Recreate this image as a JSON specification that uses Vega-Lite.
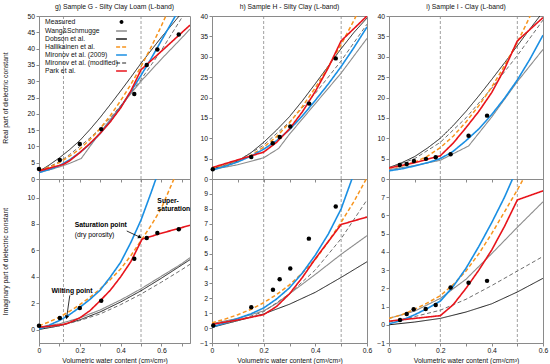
{
"$schema": "https://vega.github.io/schema/vega-lite/v6.json",
"padding": {"left": 2, "top": 3, "right": 0, "bottom": 0},
"bounds": "flush",
"align": "each",
"columns": 3,
"spacing": {"row": 0, "column": 22},
"resolve": {"legend": {"color": "independent"}},
"config": {
  "font": "Liberation Sans",
  "view": {"stroke": "#8a8a8a"},
  "axis": {"labelFontSize": 6.8, "titleFontSize": 6.8, "titleFontWeight": "normal", "labelColor": "#111", "titleColor": "#111", "domainColor": "#8a8a8a", "tickColor": "#8a8a8a", "tickSize": 3, "labelPadding": 1.5, "grid": false, "labelOverlap": false, "labelFlush": false},
  "title": {"fontSize": 6.8, "fontWeight": "normal", "offset": 2, "color": "#111"}
},
"datasets": {
"vlines": [{"panel":"g","x":0.12},{"panel":"g","x":0.5},{"panel":"h","x":0.2},{"panel":"h","x":0.5},{"panel":"i","x":0.2},{"panel":"i","x":0.5}],
"notesBold": [{"text":"Saturation point","x":0.175,"y":7.95},{"text":"Super-","x":0.58,"y":9.72},{"text":"saturation","x":0.58,"y":9.11},{"text":"Wilting point","x":0.061,"y":2.92}],
"notesPlain": [{"text":"(dry porosity)","x":0.175,"y":7.2}],
"arrows": [{"arrow":"sat","x":0.43,"y":7.47,"x2":0.492,"y2":7.02},{"arrow":"wilt","x":0.151,"y":2.6,"x2":0.136,"y2":0.98}],
"gr": [
{"model":"Measured","x":0,"y":3.07},{"model":"Measured","x":0.102,"y":5.84},{"model":"Measured","x":0.2,"y":10.76},{"model":"Measured","x":0.305,"y":15.3},{"model":"Measured","x":0.467,"y":26.1},{"model":"Measured","x":0.528,"y":35},{"model":"Measured","x":0.58,"y":39.75},{"model":"Measured","x":0.685,"y":44.3},
{"model":"Wang&Schmugge","x":0,"y":2.0},{"model":"Wang&Schmugge","x":0.05,"y":2.8},{"model":"Wang&Schmugge","x":0.1,"y":3.7},{"model":"Wang&Schmugge","x":0.15,"y":4.8},{"model":"Wang&Schmugge","x":0.207,"y":6.3},{"model":"Wang&Schmugge","x":0.3,"y":14.3},{"model":"Wang&Schmugge","x":0.4,"y":22.3},{"model":"Wang&Schmugge","x":0.5,"y":30},{"model":"Wang&Schmugge","x":0.6,"y":36.8},{"model":"Wang&Schmugge","x":0.7,"y":43.3},{"model":"Wang&Schmugge","x":0.74,"y":46},
{"model":"Dobson et al.","x":0,"y":2.3},{"model":"Dobson et al.","x":0.05,"y":4.3},{"model":"Dobson et al.","x":0.1,"y":6.5},{"model":"Dobson et al.","x":0.15,"y":9},{"model":"Dobson et al.","x":0.2,"y":11.8},{"model":"Dobson et al.","x":0.25,"y":15.2},{"model":"Dobson et al.","x":0.3,"y":18.9},{"model":"Dobson et al.","x":0.35,"y":22.9},{"model":"Dobson et al.","x":0.4,"y":27},{"model":"Dobson et al.","x":0.45,"y":31.2},{"model":"Dobson et al.","x":0.5,"y":35.5},{"model":"Dobson et al.","x":0.55,"y":39.5},{"model":"Dobson et al.","x":0.6,"y":43.5},{"model":"Dobson et al.","x":0.65,"y":47.2},{"model":"Dobson et al.","x":0.7,"y":51},
{"model":"Mironov et al. (modified)","x":0,"y":2.6},{"model":"Mironov et al. (modified)","x":0.05,"y":3.8},{"model":"Mironov et al. (modified)","x":0.1,"y":5.3},{"model":"Mironov et al. (modified)","x":0.15,"y":7.5},{"model":"Mironov et al. (modified)","x":0.2,"y":10},{"model":"Mironov et al. (modified)","x":0.25,"y":12.6},{"model":"Mironov et al. (modified)","x":0.3,"y":15.5},{"model":"Mironov et al. (modified)","x":0.35,"y":18.8},{"model":"Mironov et al. (modified)","x":0.4,"y":22.5},{"model":"Mironov et al. (modified)","x":0.45,"y":26.5},{"model":"Mironov et al. (modified)","x":0.5,"y":30.5},{"model":"Mironov et al. (modified)","x":0.55,"y":35},{"model":"Mironov et al. (modified)","x":0.6,"y":39.5},{"model":"Mironov et al. (modified)","x":0.65,"y":44.5},{"model":"Mironov et al. (modified)","x":0.7,"y":49.5},{"model":"Mironov et al. (modified)","x":0.74,"y":53},
{"model":"Hallikainen et al.","x":0,"y":2.6},{"model":"Hallikainen et al.","x":0.05,"y":3.6},{"model":"Hallikainen et al.","x":0.1,"y":5.0},{"model":"Hallikainen et al.","x":0.15,"y":7},{"model":"Hallikainen et al.","x":0.2,"y":9.2},{"model":"Hallikainen et al.","x":0.25,"y":12.1},{"model":"Hallikainen et al.","x":0.3,"y":15.5},{"model":"Hallikainen et al.","x":0.35,"y":19.5},{"model":"Hallikainen et al.","x":0.4,"y":24},{"model":"Hallikainen et al.","x":0.45,"y":29},{"model":"Hallikainen et al.","x":0.5,"y":34.5},{"model":"Hallikainen et al.","x":0.55,"y":40.5},{"model":"Hallikainen et al.","x":0.6,"y":47},{"model":"Hallikainen et al.","x":0.65,"y":54},
{"model":"Mironov et al. (2009)","x":0,"y":2.0},{"model":"Mironov et al. (2009)","x":0.05,"y":2.9},{"model":"Mironov et al. (2009)","x":0.1,"y":4.1},{"model":"Mironov et al. (2009)","x":0.15,"y":5.9},{"model":"Mironov et al. (2009)","x":0.2,"y":8.1},{"model":"Mironov et al. (2009)","x":0.25,"y":10.8},{"model":"Mironov et al. (2009)","x":0.3,"y":14},{"model":"Mironov et al. (2009)","x":0.35,"y":17.8},{"model":"Mironov et al. (2009)","x":0.4,"y":22},{"model":"Mironov et al. (2009)","x":0.45,"y":26.8},{"model":"Mironov et al. (2009)","x":0.5,"y":31.8},{"model":"Mironov et al. (2009)","x":0.55,"y":37},{"model":"Mironov et al. (2009)","x":0.6,"y":42.5},{"model":"Mironov et al. (2009)","x":0.65,"y":48},{"model":"Mironov et al. (2009)","x":0.7,"y":53.5},
{"model":"Park et al.","x":0,"y":2.5},{"model":"Park et al.","x":0.05,"y":3.3},{"model":"Park et al.","x":0.12,"y":4.5},{"model":"Park et al.","x":0.15,"y":5.6},{"model":"Park et al.","x":0.2,"y":8.1},{"model":"Park et al.","x":0.25,"y":10.9},{"model":"Park et al.","x":0.3,"y":14},{"model":"Park et al.","x":0.35,"y":17.6},{"model":"Park et al.","x":0.4,"y":21.8},{"model":"Park et al.","x":0.45,"y":27},{"model":"Park et al.","x":0.5,"y":33.5},{"model":"Park et al.","x":0.6,"y":39.2},{"model":"Park et al.","x":0.74,"y":47.2}
],
"gi": [
{"model":"Measured","x":0,"y":0.3},{"model":"Measured","x":0.102,"y":0.89},{"model":"Measured","x":0.2,"y":1.65},{"model":"Measured","x":0.305,"y":2.2},{"model":"Measured","x":0.467,"y":5.37},{"model":"Measured","x":0.528,"y":6.94},{"model":"Measured","x":0.58,"y":7.32},{"model":"Measured","x":0.685,"y":7.6},
{"model":"Wang&Schmugge","x":0,"y":0.2},{"model":"Wang&Schmugge","x":0.1,"y":0.45},{"model":"Wang&Schmugge","x":0.2,"y":0.9},{"model":"Wang&Schmugge","x":0.3,"y":1.5},{"model":"Wang&Schmugge","x":0.4,"y":2.25},{"model":"Wang&Schmugge","x":0.5,"y":3.1},{"model":"Wang&Schmugge","x":0.6,"y":4.05},{"model":"Wang&Schmugge","x":0.7,"y":5.0},{"model":"Wang&Schmugge","x":0.74,"y":5.45},
{"model":"Dobson et al.","x":0,"y":0.02},{"model":"Dobson et al.","x":0.1,"y":0.3},{"model":"Dobson et al.","x":0.2,"y":0.75},{"model":"Dobson et al.","x":0.3,"y":1.35},{"model":"Dobson et al.","x":0.4,"y":2.1},{"model":"Dobson et al.","x":0.5,"y":2.95},{"model":"Dobson et al.","x":0.6,"y":3.9},{"model":"Dobson et al.","x":0.7,"y":4.9},{"model":"Dobson et al.","x":0.74,"y":5.3},
{"model":"Mironov et al. (modified)","x":0,"y":0.05},{"model":"Mironov et al. (modified)","x":0.1,"y":0.3},{"model":"Mironov et al. (modified)","x":0.2,"y":0.7},{"model":"Mironov et al. (modified)","x":0.3,"y":1.2},{"model":"Mironov et al. (modified)","x":0.4,"y":1.9},{"model":"Mironov et al. (modified)","x":0.5,"y":2.7},{"model":"Mironov et al. (modified)","x":0.6,"y":3.6},{"model":"Mironov et al. (modified)","x":0.7,"y":4.55},{"model":"Mironov et al. (modified)","x":0.74,"y":4.95},
{"model":"Hallikainen et al.","x":0,"y":0.3},{"model":"Hallikainen et al.","x":0.05,"y":0.6},{"model":"Hallikainen et al.","x":0.1,"y":0.95},{"model":"Hallikainen et al.","x":0.15,"y":1.4},{"model":"Hallikainen et al.","x":0.2,"y":1.9},{"model":"Hallikainen et al.","x":0.25,"y":2.45},{"model":"Hallikainen et al.","x":0.3,"y":3.1},{"model":"Hallikainen et al.","x":0.35,"y":3.8},{"model":"Hallikainen et al.","x":0.4,"y":4.6},{"model":"Hallikainen et al.","x":0.45,"y":5.6},{"model":"Hallikainen et al.","x":0.5,"y":6.75},{"model":"Hallikainen et al.","x":0.55,"y":7.9},{"model":"Hallikainen et al.","x":0.6,"y":9.2},{"model":"Hallikainen et al.","x":0.65,"y":11.0},{"model":"Hallikainen et al.","x":0.7,"y":12.8},
{"model":"Mironov et al. (2009)","x":0,"y":0.05},{"model":"Mironov et al. (2009)","x":0.05,"y":0.35},{"model":"Mironov et al. (2009)","x":0.1,"y":0.7},{"model":"Mironov et al. (2009)","x":0.15,"y":1.15},{"model":"Mironov et al. (2009)","x":0.2,"y":1.7},{"model":"Mironov et al. (2009)","x":0.25,"y":2.3},{"model":"Mironov et al. (2009)","x":0.3,"y":3.0},{"model":"Mironov et al. (2009)","x":0.35,"y":4.0},{"model":"Mironov et al. (2009)","x":0.4,"y":5.1},{"model":"Mironov et al. (2009)","x":0.45,"y":6.6},{"model":"Mironov et al. (2009)","x":0.5,"y":8.3},{"model":"Mironov et al. (2009)","x":0.55,"y":10.4},{"model":"Mironov et al. (2009)","x":0.6,"y":12.6},
{"model":"Park et al.","x":0,"y":0.2},{"model":"Park et al.","x":0.05,"y":0.27},{"model":"Park et al.","x":0.12,"y":0.4},{"model":"Park et al.","x":0.15,"y":0.55},{"model":"Park et al.","x":0.2,"y":0.9},{"model":"Park et al.","x":0.25,"y":1.45},{"model":"Park et al.","x":0.3,"y":2.2},{"model":"Park et al.","x":0.35,"y":3.0},{"model":"Park et al.","x":0.4,"y":4.0},{"model":"Park et al.","x":0.45,"y":5.15},{"model":"Park et al.","x":0.505,"y":6.85},{"model":"Park et al.","x":0.6,"y":7.3},{"model":"Park et al.","x":0.74,"y":7.9}
],
"hr": [
{"model":"Measured","x":0.003,"y":2.4},{"model":"Measured","x":0.152,"y":5.4},{"model":"Measured","x":0.235,"y":8.8},{"model":"Measured","x":0.262,"y":10.3},{"model":"Measured","x":0.303,"y":12.9},{"model":"Measured","x":0.376,"y":18.5},{"model":"Measured","x":0.479,"y":29.6},
{"model":"Wang&Schmugge","x":0,"y":2.3},{"model":"Wang&Schmugge","x":0.1,"y":3.5},{"model":"Wang&Schmugge","x":0.2,"y":5.2},{"model":"Wang&Schmugge","x":0.258,"y":7.5},{"model":"Wang&Schmugge","x":0.3,"y":11.0},{"model":"Wang&Schmugge","x":0.4,"y":18.5},{"model":"Wang&Schmugge","x":0.5,"y":26.0},{"model":"Wang&Schmugge","x":0.6,"y":34.5},
{"model":"Dobson et al.","x":0,"y":2.5},{"model":"Dobson et al.","x":0.05,"y":3.3},{"model":"Dobson et al.","x":0.1,"y":4.4},{"model":"Dobson et al.","x":0.15,"y":6.4},{"model":"Dobson et al.","x":0.2,"y":9.0},{"model":"Dobson et al.","x":0.25,"y":12.0},{"model":"Dobson et al.","x":0.3,"y":15.3},{"model":"Dobson et al.","x":0.35,"y":19.2},{"model":"Dobson et al.","x":0.4,"y":23.4},{"model":"Dobson et al.","x":0.45,"y":27.7},{"model":"Dobson et al.","x":0.5,"y":32.0},{"model":"Dobson et al.","x":0.55,"y":36.0},{"model":"Dobson et al.","x":0.6,"y":39.5},
{"model":"Mironov et al. (modified)","x":0,"y":2.6},{"model":"Mironov et al. (modified)","x":0.1,"y":4.5},{"model":"Mironov et al. (modified)","x":0.2,"y":8.3},{"model":"Mironov et al. (modified)","x":0.3,"y":14.0},{"model":"Mironov et al. (modified)","x":0.4,"y":21.0},{"model":"Mironov et al. (modified)","x":0.5,"y":29.0},{"model":"Mironov et al. (modified)","x":0.6,"y":38.0},
{"model":"Hallikainen et al.","x":0,"y":2.7},{"model":"Hallikainen et al.","x":0.05,"y":3.3},{"model":"Hallikainen et al.","x":0.1,"y":4.3},{"model":"Hallikainen et al.","x":0.15,"y":5.8},{"model":"Hallikainen et al.","x":0.2,"y":7.8},{"model":"Hallikainen et al.","x":0.25,"y":10.4},{"model":"Hallikainen et al.","x":0.3,"y":13.8},{"model":"Hallikainen et al.","x":0.35,"y":17.8},{"model":"Hallikainen et al.","x":0.4,"y":22.4},{"model":"Hallikainen et al.","x":0.45,"y":27.5},{"model":"Hallikainen et al.","x":0.5,"y":33.0},{"model":"Hallikainen et al.","x":0.55,"y":39.0},{"model":"Hallikainen et al.","x":0.6,"y":45.5},
{"model":"Mironov et al. (2009)","x":0,"y":2.2},{"model":"Mironov et al. (2009)","x":0.05,"y":3.1},{"model":"Mironov et al. (2009)","x":0.1,"y":4.2},{"model":"Mironov et al. (2009)","x":0.15,"y":5.6},{"model":"Mironov et al. (2009)","x":0.2,"y":7.3},{"model":"Mironov et al. (2009)","x":0.25,"y":9.4},{"model":"Mironov et al. (2009)","x":0.3,"y":12.1},{"model":"Mironov et al. (2009)","x":0.35,"y":15.5},{"model":"Mironov et al. (2009)","x":0.4,"y":19.3},{"model":"Mironov et al. (2009)","x":0.45,"y":23.3},{"model":"Mironov et al. (2009)","x":0.5,"y":27.6},{"model":"Mironov et al. (2009)","x":0.55,"y":32.3},{"model":"Mironov et al. (2009)","x":0.6,"y":37.3},
{"model":"Park et al.","x":0,"y":2.8},{"model":"Park et al.","x":0.1,"y":4.7},{"model":"Park et al.","x":0.2,"y":6.6},{"model":"Park et al.","x":0.25,"y":9.0},{"model":"Park et al.","x":0.3,"y":12.3},{"model":"Park et al.","x":0.35,"y":16.5},{"model":"Park et al.","x":0.4,"y":21.5},{"model":"Park et al.","x":0.45,"y":27.3},{"model":"Park et al.","x":0.5,"y":33.9},{"model":"Park et al.","x":0.6,"y":40}
],
"hi": [
{"model":"Measured","x":0.005,"y":0.18},{"model":"Measured","x":0.152,"y":1.4},{"model":"Measured","x":0.236,"y":2.57},{"model":"Measured","x":0.262,"y":3.27},{"model":"Measured","x":0.303,"y":3.99},{"model":"Measured","x":0.375,"y":6.0},{"model":"Measured","x":0.479,"y":8.15},
{"model":"Wang&Schmugge","x":0,"y":0.3},{"model":"Wang&Schmugge","x":0.1,"y":0.65},{"model":"Wang&Schmugge","x":0.2,"y":1.15},{"model":"Wang&Schmugge","x":0.25,"y":1.65},{"model":"Wang&Schmugge","x":0.3,"y":2.3},{"model":"Wang&Schmugge","x":0.4,"y":3.6},{"model":"Wang&Schmugge","x":0.5,"y":4.95},{"model":"Wang&Schmugge","x":0.6,"y":6.2},
{"model":"Dobson et al.","x":0,"y":0.05},{"model":"Dobson et al.","x":0.1,"y":0.5},{"model":"Dobson et al.","x":0.2,"y":0.95},{"model":"Dobson et al.","x":0.3,"y":1.6},{"model":"Dobson et al.","x":0.4,"y":2.4},{"model":"Dobson et al.","x":0.5,"y":3.4},{"model":"Dobson et al.","x":0.6,"y":4.45},
{"model":"Mironov et al. (modified)","x":0,"y":0.1},{"model":"Mironov et al. (modified)","x":0.1,"y":0.5},{"model":"Mironov et al. (modified)","x":0.2,"y":1.1},{"model":"Mironov et al. (modified)","x":0.3,"y":2.3},{"model":"Mironov et al. (modified)","x":0.4,"y":3.9},{"model":"Mironov et al. (modified)","x":0.5,"y":6.0},{"model":"Mironov et al. (modified)","x":0.6,"y":8.6},
{"model":"Hallikainen et al.","x":0,"y":0.35},{"model":"Hallikainen et al.","x":0.05,"y":0.6},{"model":"Hallikainen et al.","x":0.1,"y":0.9},{"model":"Hallikainen et al.","x":0.15,"y":1.25},{"model":"Hallikainen et al.","x":0.2,"y":1.7},{"model":"Hallikainen et al.","x":0.25,"y":2.25},{"model":"Hallikainen et al.","x":0.3,"y":2.9},{"model":"Hallikainen et al.","x":0.35,"y":3.7},{"model":"Hallikainen et al.","x":0.4,"y":4.6},{"model":"Hallikainen et al.","x":0.45,"y":5.8},{"model":"Hallikainen et al.","x":0.5,"y":7.1},{"model":"Hallikainen et al.","x":0.55,"y":8.5},{"model":"Hallikainen et al.","x":0.6,"y":10.1},
{"model":"Mironov et al. (2009)","x":0,"y":0.07},{"model":"Mironov et al. (2009)","x":0.05,"y":0.35},{"model":"Mironov et al. (2009)","x":0.1,"y":0.65},{"model":"Mironov et al. (2009)","x":0.15,"y":0.95},{"model":"Mironov et al. (2009)","x":0.2,"y":1.35},{"model":"Mironov et al. (2009)","x":0.25,"y":1.95},{"model":"Mironov et al. (2009)","x":0.3,"y":2.7},{"model":"Mironov et al. (2009)","x":0.35,"y":3.7},{"model":"Mironov et al. (2009)","x":0.4,"y":4.9},{"model":"Mironov et al. (2009)","x":0.45,"y":6.3},{"model":"Mironov et al. (2009)","x":0.5,"y":8.0},{"model":"Mironov et al. (2009)","x":0.55,"y":10.4},{"model":"Mironov et al. (2009)","x":0.6,"y":12.6},
{"model":"Park et al.","x":0,"y":0.25},{"model":"Park et al.","x":0.1,"y":0.55},{"model":"Park et al.","x":0.2,"y":0.9},{"model":"Park et al.","x":0.25,"y":1.45},{"model":"Park et al.","x":0.3,"y":2.3},{"model":"Park et al.","x":0.35,"y":3.4},{"model":"Park et al.","x":0.4,"y":4.65},{"model":"Park et al.","x":0.45,"y":5.8},{"model":"Park et al.","x":0.5,"y":6.95},{"model":"Park et al.","x":0.6,"y":7.45}
],
"ir": [
{"model":"Measured","x":0.042,"y":3.46},{"model":"Measured","x":0.069,"y":3.7},{"model":"Measured","x":0.097,"y":4.44},{"model":"Measured","x":0.144,"y":4.94},{"model":"Measured","x":0.182,"y":5.36},{"model":"Measured","x":0.24,"y":6.1},{"model":"Measured","x":0.31,"y":10.6},{"model":"Measured","x":0.382,"y":15.55},
{"model":"Wang&Schmugge","x":0,"y":2.3},{"model":"Wang&Schmugge","x":0.1,"y":3.3},{"model":"Wang&Schmugge","x":0.2,"y":4.6},{"model":"Wang&Schmugge","x":0.31,"y":8.1},{"model":"Wang&Schmugge","x":0.4,"y":15.2},{"model":"Wang&Schmugge","x":0.5,"y":23.9},{"model":"Wang&Schmugge","x":0.6,"y":31.8},
{"model":"Dobson et al.","x":0,"y":2.8},{"model":"Dobson et al.","x":0.05,"y":4.0},{"model":"Dobson et al.","x":0.1,"y":5.5},{"model":"Dobson et al.","x":0.15,"y":7.6},{"model":"Dobson et al.","x":0.2,"y":10.0},{"model":"Dobson et al.","x":0.25,"y":13.1},{"model":"Dobson et al.","x":0.3,"y":16.6},{"model":"Dobson et al.","x":0.35,"y":20.4},{"model":"Dobson et al.","x":0.4,"y":24.4},{"model":"Dobson et al.","x":0.45,"y":28.5},{"model":"Dobson et al.","x":0.5,"y":32.7},{"model":"Dobson et al.","x":0.55,"y":36.9},{"model":"Dobson et al.","x":0.6,"y":41},
{"model":"Mironov et al. (modified)","x":0,"y":2.7},{"model":"Mironov et al. (modified)","x":0.1,"y":5.0},{"model":"Mironov et al. (modified)","x":0.2,"y":9.0},{"model":"Mironov et al. (modified)","x":0.3,"y":15.0},{"model":"Mironov et al. (modified)","x":0.4,"y":22.3},{"model":"Mironov et al. (modified)","x":0.5,"y":30.3},{"model":"Mironov et al. (modified)","x":0.6,"y":39},
{"model":"Hallikainen et al.","x":0,"y":2.7},{"model":"Hallikainen et al.","x":0.05,"y":3.2},{"model":"Hallikainen et al.","x":0.1,"y":4.1},{"model":"Hallikainen et al.","x":0.15,"y":5.6},{"model":"Hallikainen et al.","x":0.2,"y":7.7},{"model":"Hallikainen et al.","x":0.25,"y":10.5},{"model":"Hallikainen et al.","x":0.3,"y":14.0},{"model":"Hallikainen et al.","x":0.35,"y":18.0},{"model":"Hallikainen et al.","x":0.4,"y":22.5},{"model":"Hallikainen et al.","x":0.45,"y":27.8},{"model":"Hallikainen et al.","x":0.5,"y":33.5},{"model":"Hallikainen et al.","x":0.55,"y":40.0},{"model":"Hallikainen et al.","x":0.6,"y":47},
{"model":"Mironov et al. (2009)","x":0,"y":2.0},{"model":"Mironov et al. (2009)","x":0.05,"y":2.5},{"model":"Mironov et al. (2009)","x":0.1,"y":3.2},{"model":"Mironov et al. (2009)","x":0.15,"y":4.0},{"model":"Mironov et al. (2009)","x":0.2,"y":5.0},{"model":"Mironov et al. (2009)","x":0.25,"y":6.8},{"model":"Mironov et al. (2009)","x":0.3,"y":9.4},{"model":"Mironov et al. (2009)","x":0.35,"y":12.3},{"model":"Mironov et al. (2009)","x":0.4,"y":15.8},{"model":"Mironov et al. (2009)","x":0.45,"y":19.8},{"model":"Mironov et al. (2009)","x":0.5,"y":24.3},{"model":"Mironov et al. (2009)","x":0.55,"y":29.5},{"model":"Mironov et al. (2009)","x":0.6,"y":35.3},
{"model":"Park et al.","x":0,"y":2.7},{"model":"Park et al.","x":0.1,"y":4.0},{"model":"Park et al.","x":0.2,"y":5.7},{"model":"Park et al.","x":0.25,"y":8.8},{"model":"Park et al.","x":0.3,"y":12.6},{"model":"Park et al.","x":0.35,"y":16.6},{"model":"Park et al.","x":0.4,"y":21.2},{"model":"Park et al.","x":0.45,"y":27.0},{"model":"Park et al.","x":0.5,"y":33.9},{"model":"Park et al.","x":0.6,"y":39.6}
],
"ii": [
{"model":"Measured","x":0.043,"y":0.26},{"model":"Measured","x":0.069,"y":0.59},{"model":"Measured","x":0.096,"y":0.85},{"model":"Measured","x":0.143,"y":0.87},{"model":"Measured","x":0.182,"y":1.09},{"model":"Measured","x":0.24,"y":2.04},{"model":"Measured","x":0.31,"y":2.31},{"model":"Measured","x":0.382,"y":2.41},
{"model":"Wang&Schmugge","x":0,"y":0.35},{"model":"Wang&Schmugge","x":0.1,"y":0.75},{"model":"Wang&Schmugge","x":0.2,"y":1.45},{"model":"Wang&Schmugge","x":0.3,"y":2.5},{"model":"Wang&Schmugge","x":0.4,"y":3.9},{"model":"Wang&Schmugge","x":0.5,"y":5.35},{"model":"Wang&Schmugge","x":0.6,"y":6.75},
{"model":"Dobson et al.","x":0,"y":0.0},{"model":"Dobson et al.","x":0.1,"y":0.15},{"model":"Dobson et al.","x":0.2,"y":0.35},{"model":"Dobson et al.","x":0.3,"y":0.7},{"model":"Dobson et al.","x":0.4,"y":1.15},{"model":"Dobson et al.","x":0.5,"y":1.8},{"model":"Dobson et al.","x":0.6,"y":2.55},
{"model":"Mironov et al. (modified)","x":0,"y":0.15},{"model":"Mironov et al. (modified)","x":0.1,"y":0.45},{"model":"Mironov et al. (modified)","x":0.2,"y":0.8},{"model":"Mironov et al. (modified)","x":0.3,"y":1.4},{"model":"Mironov et al. (modified)","x":0.4,"y":2.15},{"model":"Mironov et al. (modified)","x":0.5,"y":2.95},{"model":"Mironov et al. (modified)","x":0.6,"y":3.75},
{"model":"Hallikainen et al.","x":0,"y":0.35},{"model":"Hallikainen et al.","x":0.05,"y":0.55},{"model":"Hallikainen et al.","x":0.1,"y":0.85},{"model":"Hallikainen et al.","x":0.15,"y":1.2},{"model":"Hallikainen et al.","x":0.2,"y":1.6},{"model":"Hallikainen et al.","x":0.25,"y":2.2},{"model":"Hallikainen et al.","x":0.3,"y":2.95},{"model":"Hallikainen et al.","x":0.35,"y":3.9},{"model":"Hallikainen et al.","x":0.4,"y":5.0},{"model":"Hallikainen et al.","x":0.45,"y":6.2},{"model":"Hallikainen et al.","x":0.5,"y":7.4},{"model":"Hallikainen et al.","x":0.55,"y":8.7},
{"model":"Mironov et al. (2009)","x":0,"y":0.05},{"model":"Mironov et al. (2009)","x":0.05,"y":0.25},{"model":"Mironov et al. (2009)","x":0.1,"y":0.55},{"model":"Mironov et al. (2009)","x":0.15,"y":0.9},{"model":"Mironov et al. (2009)","x":0.2,"y":1.3},{"model":"Mironov et al. (2009)","x":0.25,"y":2.1},{"model":"Mironov et al. (2009)","x":0.3,"y":3.1},{"model":"Mironov et al. (2009)","x":0.35,"y":4.3},{"model":"Mironov et al. (2009)","x":0.4,"y":5.6},{"model":"Mironov et al. (2009)","x":0.45,"y":7.0},{"model":"Mironov et al. (2009)","x":0.5,"y":8.6},
{"model":"Park et al.","x":0,"y":0.2},{"model":"Park et al.","x":0.1,"y":0.35},{"model":"Park et al.","x":0.2,"y":0.5},{"model":"Park et al.","x":0.25,"y":1.1},{"model":"Park et al.","x":0.3,"y":2.0},{"model":"Park et al.","x":0.35,"y":3.0},{"model":"Park et al.","x":0.4,"y":4.1},{"model":"Park et al.","x":0.45,"y":5.4},{"model":"Park et al.","x":0.5,"y":6.85},{"model":"Park et al.","x":0.6,"y":7.35}
]
},
"concat": [
{
 "width": 151, "height": 163,
 "title": "g) Sample G - Silty Clay Loam (L-band)",
 "layer": [
  {"data": {"name": "vlines"}, "transform": [{"filter": "datum.panel == 'g'"}], "mark": {"type": "rule", "color": "#888", "strokeDash": [3, 2], "strokeWidth": 0.8}, "encoding": {"x": {"field": "x", "type": "quantitative"}}},
  {"data": {"name": "gr"}, "transform": [{"filter": "datum.model != 'Measured'"}], "mark": {"type": "line", "clip": true},
   "encoding": {
    "x": {"field": "x", "type": "quantitative", "scale": {"domain": [0, 0.74], "nice": false, "zero": false}, "axis": {"values": [0,0.1,0.2,0.3,0.4,0.5,0.6,0.7], "tickCount": 100, "labels": false, "title": null}},
    "y": {"field": "y", "type": "quantitative", "scale": {"domain": [0, 50], "nice": false}, "axis": {"values": [0,5,10,15,20,25,30,35,40,45,50], "tickCount": 100, "format": "d", "labelOverlap": false, "title": "Real part of dielectric constant", "titlePadding": 18}},
    "color": {"field": "model", "type": "nominal", "scale": {"domain": ["Measured","Wang&Schmugge","Dobson et al.","Hallikainen et al.","Mironov et al. (2009)","Mironov et al. (modified)","Park et al."], "range": ["#000000","#8c8c8c","#1a1a1a","#f7941d","#1a8fe3","#6e6e6e","#e8141b"]},
      "legend": {"title": null, "orient": "none", "legendX": 78.5, "legendY": 2, "labelFont": "Liberation Sans", "labelFontSize": 6.8, "labelColor": "#111", "symbolType": "stroke", "symbolSize": 36, "symbolStrokeWidth": 1.5, "symbolOffset": 0, "labelOffset": -80.5, "rowPadding": 0,
        "encode": {"symbols": {"update": {
          "shape": {"signal": "datum.value === 'Measured' ? 'M-0.4,0A0.4,0.4 0 1,0 0.4,0A0.4,0.4 0 1,0 -0.4,0Z' : 'M-1.8,0L1.8,0'"},
          "fill": {"signal": "datum.value === 'Measured' ? '#000' : 'transparent'"},
          "strokeDash": {"signal": "(datum.value === 'Hallikainen et al.' || datum.value === 'Mironov et al. (modified)') ? [4,2] : [1,0]"}}}}}},
    "strokeDash": {"field": "model", "type": "nominal", "scale": {"domain": ["Measured","Wang&Schmugge","Dobson et al.","Hallikainen et al.","Mironov et al. (2009)","Mironov et al. (modified)","Park et al."], "range": [[1,0],[1,0],[1,0],[4,2.5],[1,0],[4,2.5],[1,0]]}, "legend": null},
    "strokeWidth": {"field": "model", "type": "nominal", "scale": {"type": "ordinal", "domain": ["Measured","Wang&Schmugge","Dobson et al.","Hallikainen et al.","Mironov et al. (2009)","Mironov et al. (modified)","Park et al."], "range": [1,1.1,1,1.5,1.6,1,1.6]}, "legend": null}
   }},
  {"data": {"name": "gr"}, "transform": [{"filter": "datum.model == 'Measured'"}], "mark": {"type": "point", "filled": true, "color": "#000", "size": 20, "opacity": 1}, "encoding": {"x": {"field": "x", "type": "quantitative"}, "y": {"field": "y", "type": "quantitative"}}}
 ]
},
{
 "width": 155, "height": 163,
 "title": "h) Sample H - Silty Clay (L-band)",
 "layer": [
  {"data": {"name": "vlines"}, "transform": [{"filter": "datum.panel == 'h'"}], "mark": {"type": "rule", "color": "#888", "strokeDash": [3, 2], "strokeWidth": 0.8}, "encoding": {"x": {"field": "x", "type": "quantitative"}}},
  {"data": {"name": "hr"}, "transform": [{"filter": "datum.model != 'Measured'"}], "mark": {"type": "line", "clip": true},
   "encoding": {
    "x": {"field": "x", "type": "quantitative", "scale": {"domain": [0, 0.6], "nice": false, "zero": false}, "axis": {"values": [0,0.1,0.2,0.3,0.4,0.5,0.6], "tickCount": 100, "labels": false, "title": null}},
    "y": {"field": "y", "type": "quantitative", "scale": {"domain": [0, 40], "nice": false}, "axis": {"values": [0,5,10,15,20,25,30,35,40], "tickCount": 100, "format": "d", "labelOverlap": false, "title": null}},
    "color": {"field": "model", "type": "nominal", "scale": {"domain": ["Measured","Wang&Schmugge","Dobson et al.","Hallikainen et al.","Mironov et al. (2009)","Mironov et al. (modified)","Park et al."], "range": ["#000000","#8c8c8c","#1a1a1a","#f7941d","#1a8fe3","#6e6e6e","#e8141b"]}, "legend": null},
    "strokeDash": {"field": "model", "type": "nominal", "scale": {"domain": ["Measured","Wang&Schmugge","Dobson et al.","Hallikainen et al.","Mironov et al. (2009)","Mironov et al. (modified)","Park et al."], "range": [[1,0],[1,0],[1,0],[4,2.5],[1,0],[4,2.5],[1,0]]}, "legend": null},
    "strokeWidth": {"field": "model", "type": "nominal", "scale": {"type": "ordinal", "domain": ["Measured","Wang&Schmugge","Dobson et al.","Hallikainen et al.","Mironov et al. (2009)","Mironov et al. (modified)","Park et al."], "range": [1,1.1,1,1.5,1.6,1,1.6]}, "legend": null}
   }},
  {"data": {"name": "hr"}, "transform": [{"filter": "datum.model == 'Measured'"}], "mark": {"type": "point", "filled": true, "color": "#000", "size": 20, "opacity": 1}, "encoding": {"x": {"field": "x", "type": "quantitative"}, "y": {"field": "y", "type": "quantitative"}}}
 ]
},
{
 "width": 154, "height": 163,
 "title": "i) Sample I - Clay (L-band)",
 "layer": [
  {"data": {"name": "vlines"}, "transform": [{"filter": "datum.panel == 'i'"}], "mark": {"type": "rule", "color": "#888", "strokeDash": [3, 2], "strokeWidth": 0.8}, "encoding": {"x": {"field": "x", "type": "quantitative"}}},
  {"data": {"name": "ir"}, "transform": [{"filter": "datum.model != 'Measured'"}], "mark": {"type": "line", "clip": true},
   "encoding": {
    "x": {"field": "x", "type": "quantitative", "scale": {"domain": [0, 0.6], "nice": false, "zero": false}, "axis": {"values": [0,0.1,0.2,0.3,0.4,0.5,0.6], "tickCount": 100, "labels": false, "title": null}},
    "y": {"field": "y", "type": "quantitative", "scale": {"domain": [0, 40], "nice": false}, "axis": {"values": [0,5,10,15,20,25,30,35,40], "tickCount": 100, "format": "d", "labelOverlap": false, "title": null}},
    "color": {"field": "model", "type": "nominal", "scale": {"domain": ["Measured","Wang&Schmugge","Dobson et al.","Hallikainen et al.","Mironov et al. (2009)","Mironov et al. (modified)","Park et al."], "range": ["#000000","#8c8c8c","#1a1a1a","#f7941d","#1a8fe3","#6e6e6e","#e8141b"]}, "legend": null},
    "strokeDash": {"field": "model", "type": "nominal", "scale": {"domain": ["Measured","Wang&Schmugge","Dobson et al.","Hallikainen et al.","Mironov et al. (2009)","Mironov et al. (modified)","Park et al."], "range": [[1,0],[1,0],[1,0],[4,2.5],[1,0],[4,2.5],[1,0]]}, "legend": null},
    "strokeWidth": {"field": "model", "type": "nominal", "scale": {"type": "ordinal", "domain": ["Measured","Wang&Schmugge","Dobson et al.","Hallikainen et al.","Mironov et al. (2009)","Mironov et al. (modified)","Park et al."], "range": [1,1.1,1,1.5,1.6,1,1.6]}, "legend": null}
   }},
  {"data": {"name": "ir"}, "transform": [{"filter": "datum.model == 'Measured'"}], "mark": {"type": "point", "filled": true, "color": "#000", "size": 20, "opacity": 1}, "encoding": {"x": {"field": "x", "type": "quantitative"}, "y": {"field": "y", "type": "quantitative"}}}
 ]
},
{
 "width": 151, "height": 164,
 "layer": [
  {"data": {"name": "vlines"}, "transform": [{"filter": "datum.panel == 'g'"}], "mark": {"type": "rule", "color": "#888", "strokeDash": [3, 2], "strokeWidth": 0.8}, "encoding": {"x": {"field": "x", "type": "quantitative"}}},
  {"data": {"name": "gi"}, "transform": [{"filter": "datum.model != 'Measured'"}], "mark": {"type": "line", "clip": true},
   "encoding": {
    "x": {"field": "x", "type": "quantitative", "scale": {"domain": [0, 0.74], "nice": false, "zero": false}, "axis": {"values": [0,0.1,0.2,0.3,0.4,0.5,0.6,0.7], "tickCount": 100, "format": "~g", "labelOverlap": false, "labelExpr": "round(datum.value*10) % 2 == 0 ? datum.label : ''", "title": "Volumetric water content (cm³/cm³)", "titlePadding": 3}},
    "y": {"field": "y", "type": "quantitative", "scale": {"domain": [-1, 11.4], "nice": false, "zero": false}, "axis": {"values": [0,2,4,6,8,10], "tickCount": 100, "format": "d", "labelOverlap": false, "title": "Imaginary part of dielectric constant", "titlePadding": 18}},
    "color": {"field": "model", "type": "nominal", "scale": {"domain": ["Measured","Wang&Schmugge","Dobson et al.","Hallikainen et al.","Mironov et al. (2009)","Mironov et al. (modified)","Park et al."], "range": ["#000000","#8c8c8c","#1a1a1a","#f7941d","#1a8fe3","#6e6e6e","#e8141b"]}, "legend": null},
    "strokeDash": {"field": "model", "type": "nominal", "scale": {"domain": ["Measured","Wang&Schmugge","Dobson et al.","Hallikainen et al.","Mironov et al. (2009)","Mironov et al. (modified)","Park et al."], "range": [[1,0],[1,0],[1,0],[4,2.5],[1,0],[4,2.5],[1,0]]}, "legend": null},
    "strokeWidth": {"field": "model", "type": "nominal", "scale": {"type": "ordinal", "domain": ["Measured","Wang&Schmugge","Dobson et al.","Hallikainen et al.","Mironov et al. (2009)","Mironov et al. (modified)","Park et al."], "range": [1,1.1,1,1.5,1.6,1,1.6]}, "legend": null}
   }},
  {"data": {"name": "gi"}, "transform": [{"filter": "datum.model == 'Measured'"}], "mark": {"type": "point", "filled": true, "color": "#000", "size": 20, "opacity": 1}, "encoding": {"x": {"field": "x", "type": "quantitative"}, "y": {"field": "y", "type": "quantitative"}}},
  {"data": {"name": "arrows"}, "mark": {"type": "rule", "color": "#000", "strokeWidth": 0.8}, "encoding": {"x": {"field": "x", "type": "quantitative"}, "y": {"field": "y", "type": "quantitative"}, "x2": {"field": "x2"}, "y2": {"field": "y2"}}},
  {"data": {"name": "arrows"}, "transform": [{"filter": "datum.arrow == 'sat'"}], "mark": {"type": "point", "shape": "triangle", "angle": 114, "filled": true, "color": "#000", "size": 18, "opacity": 1}, "encoding": {"x": {"field": "x2", "type": "quantitative"}, "y": {"field": "y2", "type": "quantitative"}}},
  {"data": {"name": "arrows"}, "transform": [{"filter": "datum.arrow == 'wilt'"}], "mark": {"type": "point", "shape": "triangle", "angle": 194, "filled": true, "color": "#000", "size": 18, "opacity": 1}, "encoding": {"x": {"field": "x2", "type": "quantitative"}, "y": {"field": "y2", "type": "quantitative"}}},
  {"data": {"name": "notesBold"}, "mark": {"type": "text", "align": "left", "baseline": "middle", "fontWeight": "bold", "fontSize": 6.8, "color": "#000"}, "encoding": {"x": {"field": "x", "type": "quantitative"}, "y": {"field": "y", "type": "quantitative"}, "text": {"field": "text"}}},
  {"data": {"name": "notesPlain"}, "mark": {"type": "text", "align": "left", "baseline": "middle", "fontSize": 6.8, "color": "#000"}, "encoding": {"x": {"field": "x", "type": "quantitative"}, "y": {"field": "y", "type": "quantitative"}, "text": {"field": "text"}}}
 ]
},
{
 "width": 155, "height": 164,
 "layer": [
  {"data": {"name": "vlines"}, "transform": [{"filter": "datum.panel == 'h'"}], "mark": {"type": "rule", "color": "#888", "strokeDash": [3, 2], "strokeWidth": 0.8}, "encoding": {"x": {"field": "x", "type": "quantitative"}}},
  {"data": {"name": "hi"}, "transform": [{"filter": "datum.model != 'Measured'"}], "mark": {"type": "line", "clip": true},
   "encoding": {
    "x": {"field": "x", "type": "quantitative", "scale": {"domain": [0, 0.6], "nice": false, "zero": false}, "axis": {"values": [0,0.1,0.2,0.3,0.4,0.5,0.6], "tickCount": 100, "format": "~g", "labelOverlap": false, "labelExpr": "round(datum.value*10) % 2 == 0 ? datum.label : ''", "title": "Volumetric water content (cm³/cm³)", "titlePadding": 3}},
    "y": {"field": "y", "type": "quantitative", "scale": {"domain": [-1, 10], "nice": false, "zero": false}, "axis": {"values": [-1,0,1,2,3,4,5,6,7,8,9], "tickCount": 100, "format": "d", "labelOverlap": false, "title": null}},
    "color": {"field": "model", "type": "nominal", "scale": {"domain": ["Measured","Wang&Schmugge","Dobson et al.","Hallikainen et al.","Mironov et al. (2009)","Mironov et al. (modified)","Park et al."], "range": ["#000000","#8c8c8c","#1a1a1a","#f7941d","#1a8fe3","#6e6e6e","#e8141b"]}, "legend": null},
    "strokeDash": {"field": "model", "type": "nominal", "scale": {"domain": ["Measured","Wang&Schmugge","Dobson et al.","Hallikainen et al.","Mironov et al. (2009)","Mironov et al. (modified)","Park et al."], "range": [[1,0],[1,0],[1,0],[4,2.5],[1,0],[4,2.5],[1,0]]}, "legend": null},
    "strokeWidth": {"field": "model", "type": "nominal", "scale": {"type": "ordinal", "domain": ["Measured","Wang&Schmugge","Dobson et al.","Hallikainen et al.","Mironov et al. (2009)","Mironov et al. (modified)","Park et al."], "range": [1,1.1,1,1.5,1.6,1,1.6]}, "legend": null}
   }},
  {"data": {"name": "hi"}, "transform": [{"filter": "datum.model == 'Measured'"}], "mark": {"type": "point", "filled": true, "color": "#000", "size": 20, "opacity": 1}, "encoding": {"x": {"field": "x", "type": "quantitative"}, "y": {"field": "y", "type": "quantitative"}}}
 ]
},
{
 "width": 154, "height": 164,
 "layer": [
  {"data": {"name": "vlines"}, "transform": [{"filter": "datum.panel == 'i'"}], "mark": {"type": "rule", "color": "#888", "strokeDash": [3, 2], "strokeWidth": 0.8}, "encoding": {"x": {"field": "x", "type": "quantitative"}}},
  {"data": {"name": "ii"}, "transform": [{"filter": "datum.model != 'Measured'"}], "mark": {"type": "line", "clip": true},
   "encoding": {
    "x": {"field": "x", "type": "quantitative", "scale": {"domain": [0, 0.6], "nice": false, "zero": false}, "axis": {"values": [0,0.1,0.2,0.3,0.4,0.5,0.6], "tickCount": 100, "format": "~g", "labelOverlap": false, "labelExpr": "round(datum.value*10) % 2 == 0 ? datum.label : ''", "title": "Volumetric water content (cm³/cm³)", "titlePadding": 3}},
    "y": {"field": "y", "type": "quantitative", "scale": {"domain": [-1, 8], "nice": false, "zero": false}, "axis": {"values": [-1,0,1,2,3,4,5,6,7], "tickCount": 100, "format": "d", "labelOverlap": false, "title": null}},
    "color": {"field": "model", "type": "nominal", "scale": {"domain": ["Measured","Wang&Schmugge","Dobson et al.","Hallikainen et al.","Mironov et al. (2009)","Mironov et al. (modified)","Park et al."], "range": ["#000000","#8c8c8c","#1a1a1a","#f7941d","#1a8fe3","#6e6e6e","#e8141b"]}, "legend": null},
    "strokeDash": {"field": "model", "type": "nominal", "scale": {"domain": ["Measured","Wang&Schmugge","Dobson et al.","Hallikainen et al.","Mironov et al. (2009)","Mironov et al. (modified)","Park et al."], "range": [[1,0],[1,0],[1,0],[4,2.5],[1,0],[4,2.5],[1,0]]}, "legend": null},
    "strokeWidth": {"field": "model", "type": "nominal", "scale": {"type": "ordinal", "domain": ["Measured","Wang&Schmugge","Dobson et al.","Hallikainen et al.","Mironov et al. (2009)","Mironov et al. (modified)","Park et al."], "range": [1,1.1,1,1.5,1.6,1,1.6]}, "legend": null}
   }},
  {"data": {"name": "ii"}, "transform": [{"filter": "datum.model == 'Measured'"}], "mark": {"type": "point", "filled": true, "color": "#000", "size": 20, "opacity": 1}, "encoding": {"x": {"field": "x", "type": "quantitative"}, "y": {"field": "y", "type": "quantitative"}}}
 ]
}
]
}
